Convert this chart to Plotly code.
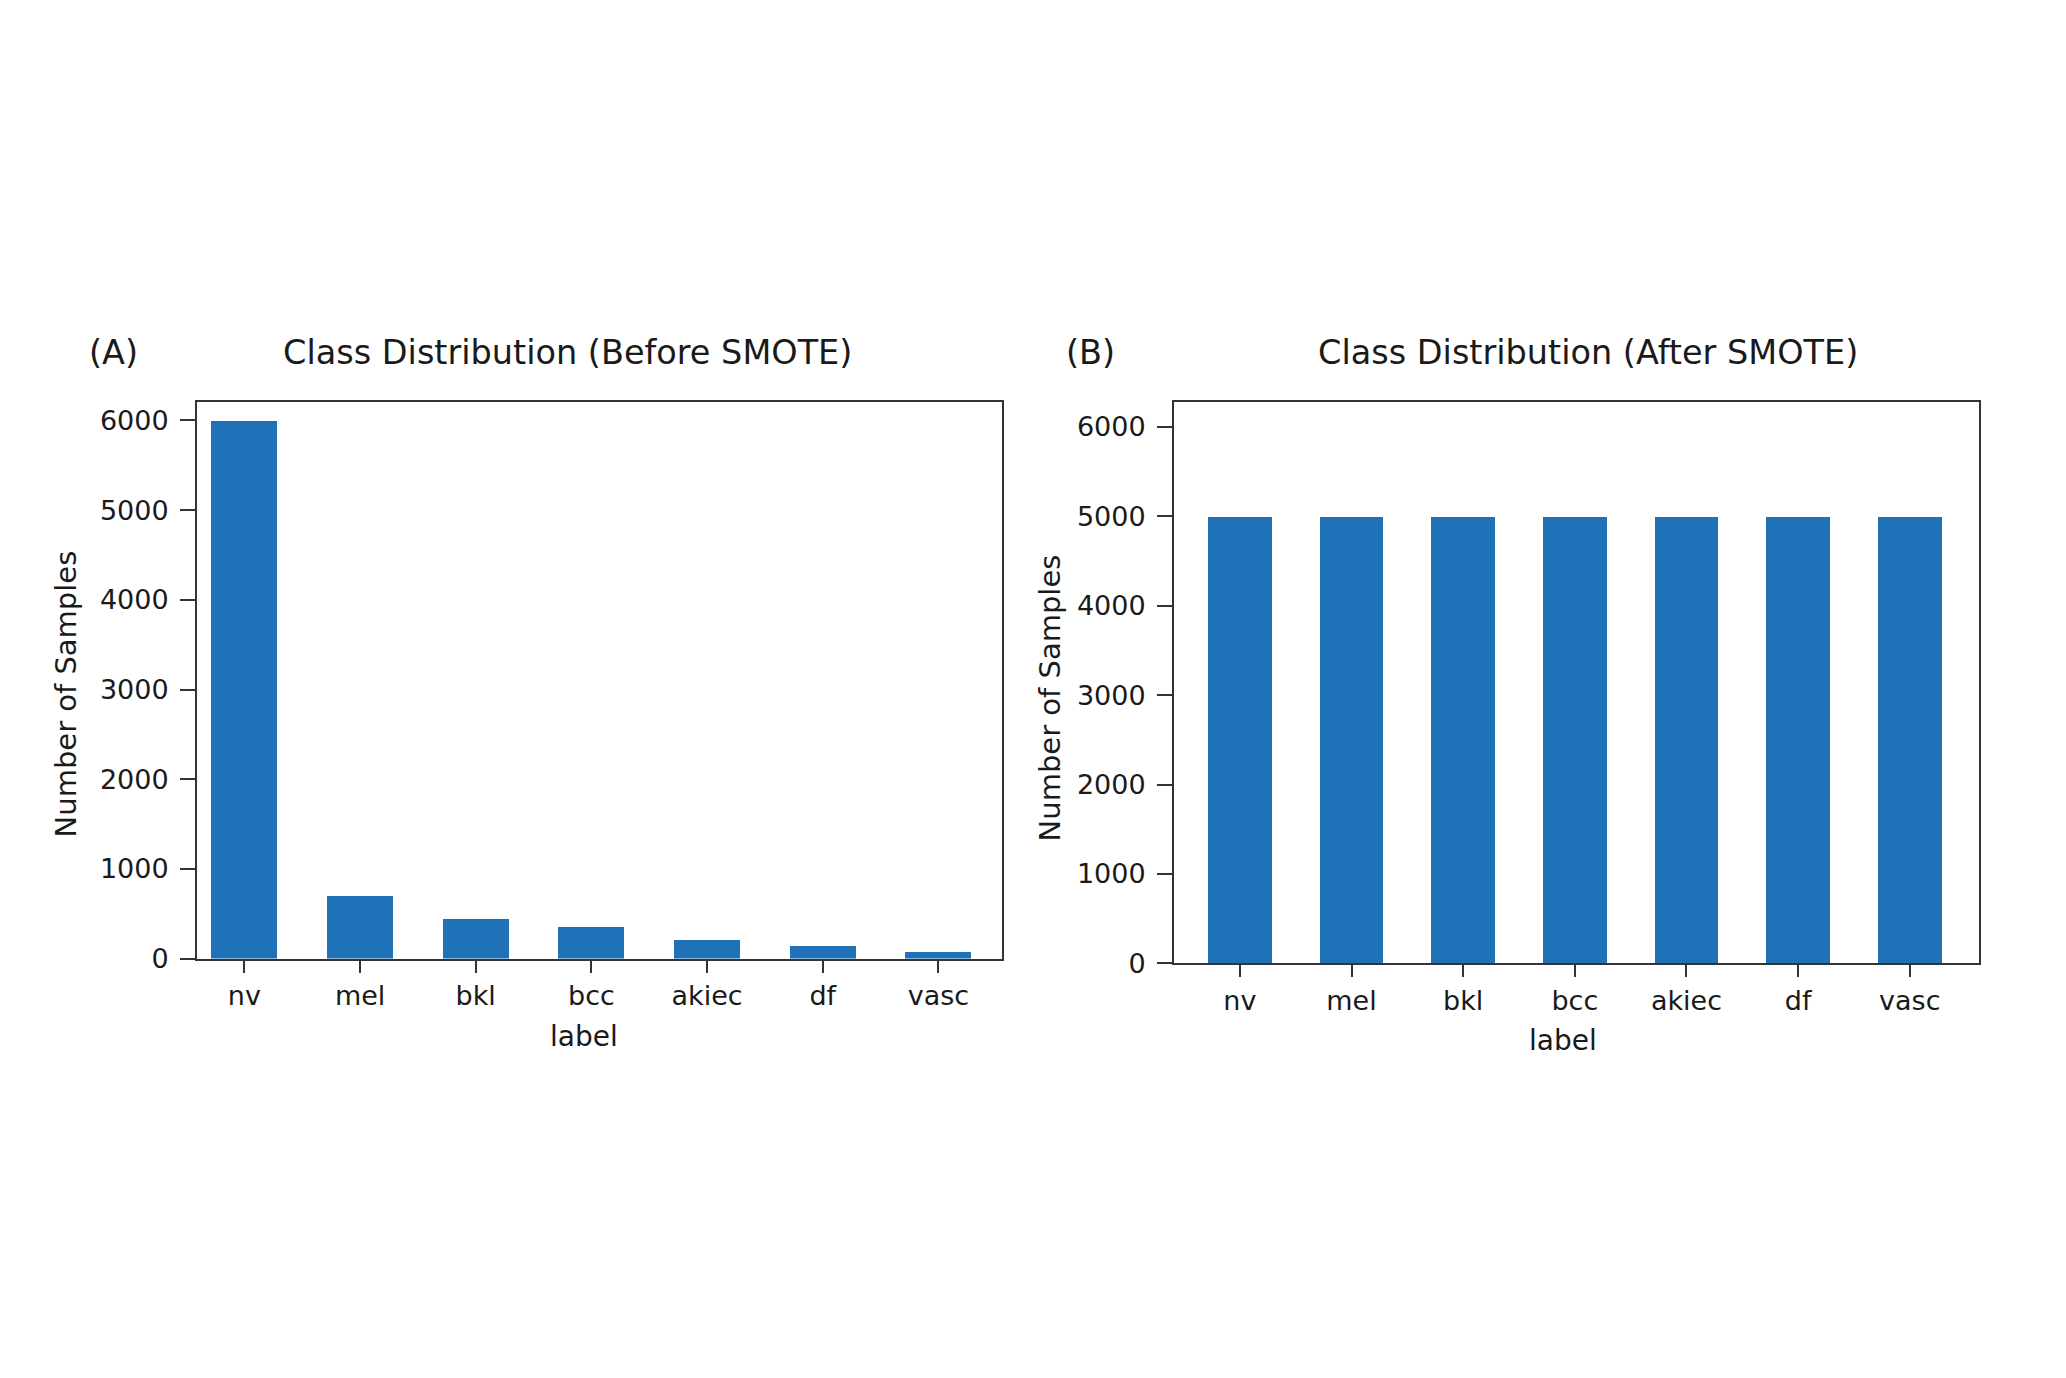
import plotly.graph_objects as go
from plotly.subplots import make_subplots

# class labels and sample counts
labels = ['nv', 'mel', 'bkl', 'bcc', 'akiec', 'df', 'vasc']
before_smote = [6000, 700, 450, 350, 210, 140, 80]
after_smote = [5000, 5000, 5000, 5000, 5000, 5000, 5000]
y_ticks = [0, 1000, 2000, 3000, 4000, 5000, 6000]

W, H = 2066, 1378
OFF_X, OFF_Y = 8, 0  # the page shifts the plot div a little to the right

def px_x(v):
    return (v - OFF_X) / W

def px_y(v):
    return 1 - (v - OFF_Y) / H

bar_color = '#1f72b8'
font_name = 'DejaVu Sans'
text_color = '#1a1a1a'

fig = make_subplots(rows=1, cols=2)

fig.add_trace(go.Bar(x=labels, y=before_smote, width=0.57, marker_color=bar_color,
                     marker_line_width=0, showlegend=False), row=1, col=1)
fig.add_trace(go.Bar(x=labels, y=after_smote, width=0.57, marker_color=bar_color,
                     marker_line_width=0, showlegend=False), row=1, col=2)

axis_style = dict(showline=True, mirror=True, linecolor='#333333', linewidth=2,
                  ticks='outside', tickwidth=2, tickcolor='#333333',
                  showgrid=False, zeroline=False,
                  tickfont=dict(family=font_name, size=27, color=text_color))

fig.update_xaxes(axis_style, ticklen=12, ticklabelstandoff=0)
fig.update_yaxes(axis_style, ticklen=15, ticklabelstandoff=6)

fig.update_xaxes(domain=[px_x(197), px_x(1002)], range=[-0.41, 6.55], row=1, col=1)
fig.update_xaxes(domain=[px_x(1174), px_x(1979)], range=[-0.59, 6.62], row=1, col=2)
fig.update_yaxes(domain=[px_y(961), px_y(398)], range=[0, 6210], tickvals=y_ticks, row=1, col=1)
fig.update_yaxes(domain=[px_y(966), px_y(398)], range=[0, 6280], tickvals=y_ticks, row=1, col=2)

# panel letters and titles
title_font = dict(family=font_name, size=33.5, color=text_color)
for text, cx in [('(A)', 113), ('Class Distribution (Before SMOTE)', 567),
                 ('(B)', 1090), ('Class Distribution (After SMOTE)', 1588)]:
    fig.add_annotation(text=text, x=px_x(cx), y=px_y(348), xref='paper', yref='paper',
                       xanchor='center', yanchor='middle', showarrow=False, font=title_font)

# axis titles
label_font = dict(family=font_name, size=28, color=text_color)
for cx, cy in [(584, 1040), (1563, 1044)]:
    fig.add_annotation(text='label', x=px_x(cx), y=px_y(cy), xref='paper', yref='paper',
                       xanchor='center', yanchor='middle', showarrow=False, font=label_font)
for cx, cy in [(66, 694), (1050, 698)]:
    fig.add_annotation(text='Number of Samples', x=px_x(cx), y=px_y(cy), xref='paper', yref='paper',
                       xanchor='center', yanchor='middle', textangle=-90, showarrow=False,
                       font=dict(family=font_name, size=29, color=text_color))

fig.update_layout(width=W, height=H, margin=dict(l=0, r=0, t=0, b=0),
                  plot_bgcolor='white', paper_bgcolor='white',
                  font=dict(family=font_name), bargap=0)

fig.write_html("out.html")
